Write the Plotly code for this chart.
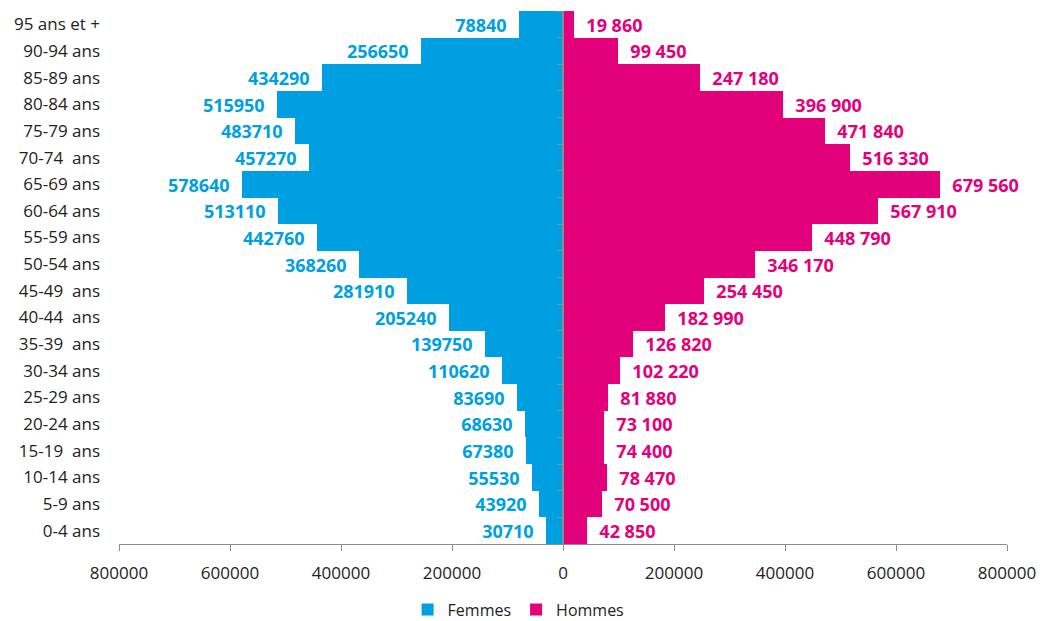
import plotly.graph_objects as go

categories = ["95 ans et +", "90-94 ans", "85-89 ans", "80-84 ans", "75-79 ans",
              "70-74\u00a0\u00a0ans", "65-69 ans", "60-64 ans", "55-59 ans", "50-54 ans",
              "45-49\u00a0\u00a0ans", "40-44\u00a0\u00a0ans", "35-39\u00a0\u00a0ans", "30-34 ans",
              "25-29 ans", "20-24 ans", "15-19\u00a0\u00a0ans", "10-14 ans", "5-9 ans", "0-4 ans"]
femmes = [78840, 256650, 434290, 515950, 483710, 457270, 578640, 513110, 442760, 368260,
          281910, 205240, 139750, 110620, 83690, 68630, 67380, 55530, 43920, 30710]
hommes = [19860, 99450, 247180, 396900, 471840, 516330, 679560, 567910, 448790, 346170,
          254450, 182990, 126820, 102220, 81880, 73100, 74400, 78470, 70500, 42850]
tick_vals = [-800000, -600000, -400000, -200000, 0, 200000, 400000, 600000, 800000]
tick_text = ["800000", "600000", "400000", "200000", "0", "200000", "400000", "600000", "800000"]

BLUE = "#009FE2"
PINK = "#E3007B"
GRAY = "#8C8C8C"
FONT = "Open Sans"
PAD = "\u00a0\u00a0"

fig = go.Figure()
fig.add_trace(go.Bar(
    y=categories, x=[-v for v in femmes], orientation="h", name="Femmes",
    marker=dict(color=BLUE, line=dict(width=0)),
    text=[str(v) + PAD for v in femmes], textposition="outside", cliponaxis=False,
    textfont=dict(color=BLUE, size=18, family=FONT, weight="bold"),
    yaxis="y",
))
fig.add_trace(go.Bar(
    y=categories, x=hommes, orientation="h", name="Hommes",
    marker=dict(color=PINK, line=dict(width=0)),
    text=[PAD + f"{v:,}".replace(",", " ") for v in hommes], textposition="outside", cliponaxis=False,
    textfont=dict(color=PINK, size=18, family=FONT, weight="bold"),
    yaxis="y2",
))

fig.update_layout(
    width=1040, height=621,
    margin=dict(l=119, r=33, t=11, b=77, autoexpand=False),
    paper_bgcolor="white", plot_bgcolor="white",
    bargap=0, barmode="overlay",
    font=dict(family=FONT, size=17, color="#222222"),
    xaxis=dict(range=[-800000, 800000], tickvals=tick_vals, ticktext=tick_text,
               showgrid=False, zeroline=False, showline=True, linecolor=GRAY, linewidth=1,
               ticks="outside", ticklen=6, tickcolor=GRAY, ticklabelstandoff=8,
               automargin=False, tickfont=dict(size=17, color="#222222")),
    yaxis=dict(categoryorder="array", categoryarray=categories, autorange="reversed",
               showgrid=False, zeroline=False, showline=False, ticks="",
               automargin=False, ticklabelstandoff=18, tickfont=dict(size=17, color="#222222")),
    yaxis2=dict(overlaying="y", anchor="free", position=0.5, side="left",
                categoryorder="array", categoryarray=categories, autorange="reversed",
                showgrid=False, zeroline=False, showline=True, linecolor=GRAY, linewidth=1.5,
                ticks="outside", tickson="boundaries", ticklen=5, tickcolor=GRAY,
                automargin=False, showticklabels=False),
    legend=dict(orientation="h", x=0.45, xanchor="center", y=-0.123, yanchor="middle",
                font=dict(size=16, color="#222222"), itemwidth=30, traceorder="normal"),
    showlegend=True,
)

fig.write_html("out.html", config={"displayModeBar": False},
               post_script="document.body.style.margin='0';document.body.style.overflow='hidden';")
